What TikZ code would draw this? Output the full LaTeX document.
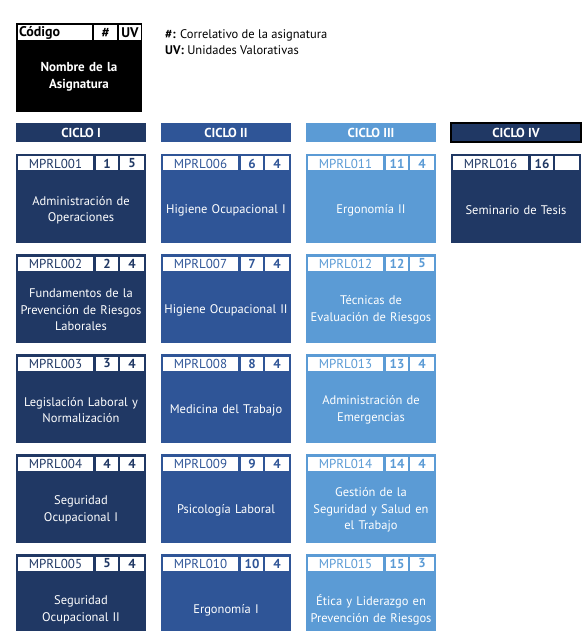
\documentclass[tikz,border=0pt]{standalone}
\usepackage{fontspec}
\setmainfont{PT Sans}
\usetikzlibrary{positioning}

\definecolor{cicloA}{RGB}{32,56,100}
\definecolor{cicloB}{RGB}{47,85,151}
\definecolor{cicloC}{RGB}{91,155,213}

\tikzset{
  header/.style={
    rectangle,
    minimum width=130pt,
    minimum height=19pt,
    inner sep=0pt,
    outer sep=0pt,
    text=white,
    font=\bfseries\fontsize{13}{14}\selectfont
  },
  card/.style={
    rectangle,
    minimum width=130pt,
    minimum height=89pt,
    inner sep=0pt,
    outer sep=0pt
  },
  cell/.style={
    rectangle,
    fill=white,
    minimum height=14pt,
    inner sep=0pt,
    outer sep=0pt,
    font=\fontsize{13}{14}\selectfont
  },
  codecell/.style={cell, minimum width=75pt},
  numcell/.style={cell, minimum width=22pt, font=\bfseries\fontsize{13}{14}\selectfont},
  uvcell/.style={numcell, minimum width=24pt},
  cardtext/.style={
    text=white,
    align=center,
    text width=128pt,
    inner sep=0pt,
    font=\fontsize{12.5}{16.5}\selectfont
  },
  legendcell/.style={
    rectangle,
    fill=white,
    minimum height=15pt,
    inner sep=0pt,
    outer sep=0pt,
    font=\bfseries\fontsize{14}{14}\selectfont
  }
}

% one course card: name, colour, position, code, #, UV, title
\newcommand{\asignatura}[7]{%
  \node[card, fill=#2, #3] (#1) {};
  \node[codecell, text=#2, anchor=north west] (#1-cod)
        at ([shift={(2pt,-2.5pt)}]#1.north west) {#4};
  \node[numcell, text=#2, right=3pt of #1-cod] (#1-num) {#5};
  \node[uvcell, text=#2, right=2pt of #1-num] (#1-uv) {#6};
  \node[cardtext] (#1-txt) at ([yshift=-56pt]#1.north) {#7};
}

\begin{document}
\begin{tikzpicture}
  \useasboundingbox (0pt,0pt) rectangle (588pt,-631pt);

  % legend
  \node[rectangle, fill=black, minimum width=126pt, minimum height=89pt,
        inner sep=0pt, outer sep=0pt, anchor=north west] (leyenda) at (16pt,-23pt) {};
  \node[legendcell, minimum width=74pt, text width=72pt, inner xsep=1pt, align=left,
        anchor=north west] (ley-cod) at ([shift={(2pt,-2pt)}]leyenda.north west) {Código};
  \node[legendcell, minimum width=23pt, right=2pt of ley-cod] (ley-num) {\#};
  \node[legendcell, minimum width=22pt, right=2pt of ley-num] (ley-uv) {UV};
  \node[cardtext, font=\bfseries\fontsize{13}{16.5}\selectfont] (ley-txt)
        at ([yshift=-54pt]leyenda.north) {Nombre de la\\Asignatura};
  \node[anchor=north west, align=left, inner sep=0pt,
        font=\fontsize{12.5}{16}\selectfont] (ley-info) at (165pt,-29pt)
        {\textbf{\#:} Correlativo de la asignatura\\\textbf{UV:} Unidades Valorativas};

  % cycle headers
  \node[header, fill=cicloA, anchor=north west] (h1) at (16pt,-123pt) {CICLO I};
  \node[header, fill=cicloB, right=15pt of h1] (h2) {CICLO II};
  \node[header, fill=cicloC, right=15pt of h2] (h3) {CICLO III};
  \node[header, fill=cicloA, draw=black, line width=1.8pt, right=15pt of h3] (h4) {CICLO IV};

  % ciclo I
  \asignatura{a1}{cicloA}{below=12pt of h1}{MPRL001}{1}{5}{Administración de\\Operaciones}
  \asignatura{a2}{cicloA}{below=11pt of a1}{MPRL002}{2}{4}{Fundamentos de la\\Prevención de Riesgos\\Laborales}
  \asignatura{a3}{cicloA}{below=11pt of a2}{MPRL003}{3}{4}{Legislación Laboral y\\Normalización}
  \asignatura{a4}{cicloA}{below=11pt of a3}{MPRL004}{4}{4}{Seguridad\\Ocupacional I}
  \asignatura{a5}{cicloA}{below=11pt of a4, minimum height=77pt}{MPRL005}{5}{4}{Seguridad\\Ocupacional II}

  % ciclo II
  \asignatura{b1}{cicloB}{below=12pt of h2}{MPRL006}{6}{4}{Higiene Ocupacional I}
  \asignatura{b2}{cicloB}{below=11pt of b1}{MPRL007}{7}{4}{Higiene Ocupacional II}
  \asignatura{b3}{cicloB}{below=11pt of b2}{MPRL008}{8}{4}{Medicina del Trabajo}
  \asignatura{b4}{cicloB}{below=11pt of b3}{MPRL009}{9}{4}{Psicología Laboral}
  \asignatura{b5}{cicloB}{below=11pt of b4, minimum height=77pt}{MPRL010}{10}{4}{Ergonomía I}

  % ciclo III
  \asignatura{c1}{cicloC}{below=12pt of h3}{MPRL011}{11}{4}{Ergonomía II}
  \asignatura{c2}{cicloC}{below=11pt of c1}{MPRL012}{12}{5}{Técnicas de\\Evaluación de Riesgos}
  \asignatura{c3}{cicloC}{below=11pt of c2}{MPRL013}{13}{4}{Administración de\\Emergencias}
  \asignatura{c4}{cicloC}{below=11pt of c3}{MPRL014}{14}{4}{Gestión de la\\Seguridad y Salud en\\el Trabajo}
  \asignatura{c5}{cicloC}{below=11pt of c4, minimum height=77pt}{MPRL015}{15}{3}{Ética y Liderazgo en\\Prevención de Riesgos}

  % ciclo IV
  \asignatura{d1}{cicloA}{below=12pt of h4}{MPRL016}{16}{}{Seminario de Tesis}
\end{tikzpicture}
\end{document}
